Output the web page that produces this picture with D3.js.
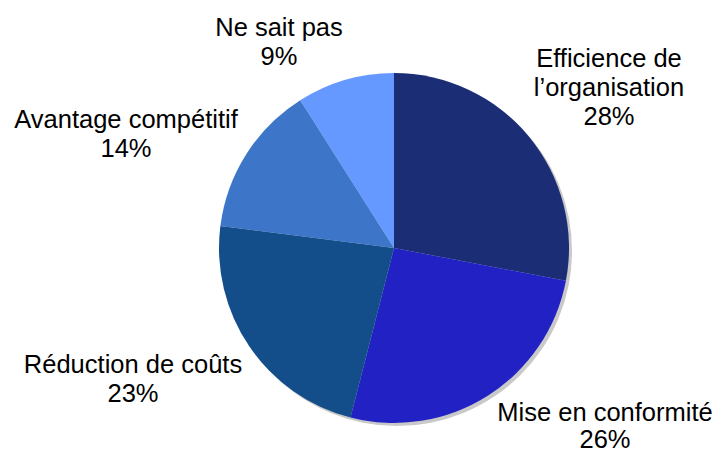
<!DOCTYPE html>
<meta charset="utf-8">
<style>
body { margin: 0; background: #fff; }
.label { font: 25.5px "Liberation Sans", Arial, sans-serif; fill: #000; }
</style>
<body>
<svg width="715" height="457"></svg>
<script src="https://d3js.org/d3.v7.min.js"></script>
<script>
// data
var categories = ["Efficience de\nl\u2019organisation", "Mise en conformit\u00e9", "R\u00e9duction de co\u00fbts", "Avantage comp\u00e9titif", "Ne sait pas"];
var values = [28, 26, 23, 14, 9];
var colors = ["#1b2e75", "#2222c4", "#134e8b", "#3d76c9", "#6699ff"];

// label placement: center x and first-line baseline, offsets from pie center
var labelPos = [[215, -181], [211, 173], [-261, 125], [-268, -120], [-115, -212]];

var svg = d3.select("svg"),
    cx = 394, cy = 248, radius = 175;

var pie = d3.pie().sort(null).value(function(d) { return d; });
var arc = d3.arc().innerRadius(0).outerRadius(radius);

// drop shadow
svg.append("circle")
    .attr("cx", cx + 3)
    .attr("cy", cy + 3)
    .attr("r", radius)
    .style("fill", "#c9c9c9");

var g = svg.append("g")
    .attr("transform", "translate(" + cx + "," + cy + ")");

g.selectAll("path")
  .data(pie(values))
  .enter().append("path")
    .attr("d", arc)
    .style("fill", function(d, i) { return colors[i]; });

var lineH = 29;
categories.forEach(function(c, i) {
  var lines = c.split("\n").concat([values[i] + "%"]);
  var t = g.append("text")
      .attr("class", "label")
      .attr("text-anchor", "middle")
      .attr("x", labelPos[i][0])
      .attr("y", labelPos[i][1]);
  lines.forEach(function(l, j) {
    t.append("tspan")
      .attr("x", labelPos[i][0])
      .attr("dy", j === 0 ? 0 : (i === 1 ? 27 : lineH))
      .text(l);
  });
});
</script>
</body>
